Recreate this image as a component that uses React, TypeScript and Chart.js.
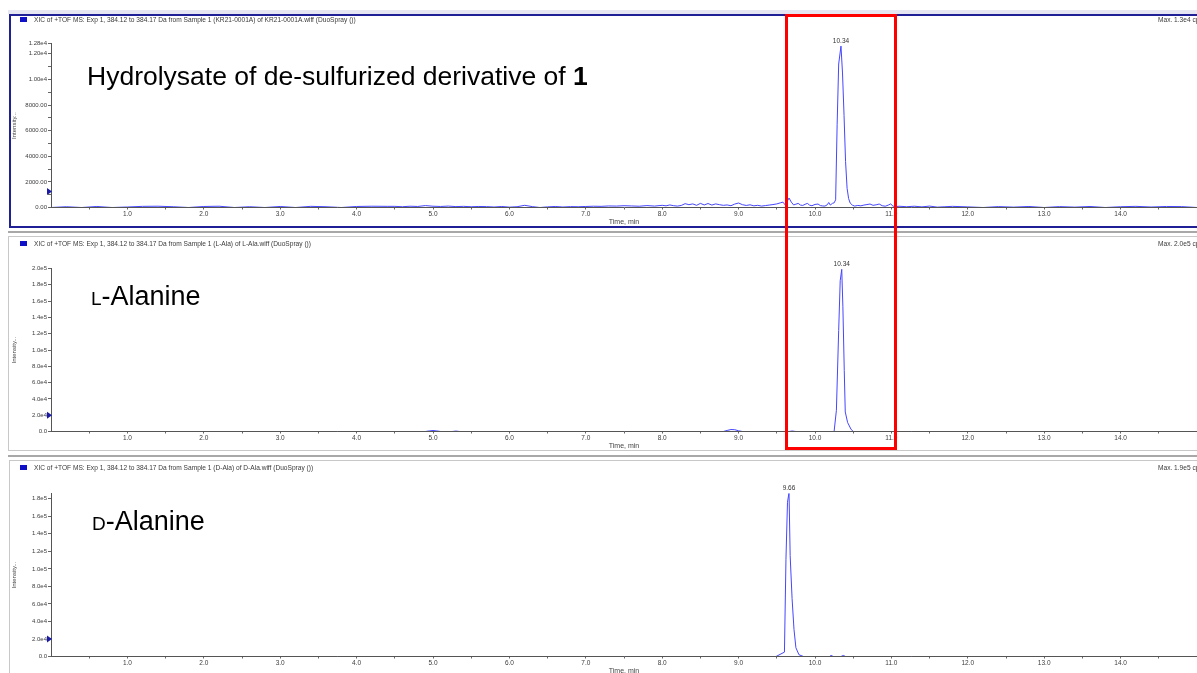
import React, { useEffect, useRef } from 'react';
import { Chart, registerables } from 'chart.js';

Chart.register(...registerables);

const FONT = '"Liberation Sans", Arial, sans-serif';

// ---------- Data ----------
// Panel 1: Hydrolysate of de-sulfurized derivative of 1
const TIME_1 = [
  0.0, 0.2, 0.4, 0.6, 0.8, 1.0, 1.2, 1.4, 1.6, 1.8, 2.0, 2.2, 2.4, 2.6, 2.8, 3.0, 3.2, 3.4, 3.6, 3.8, 4.0, 4.2, 4.4,
  4.5, 4.6, 4.7, 4.8, 4.9, 5.0, 5.1, 5.2, 5.3, 5.4, 5.5, 5.6, 5.7, 5.8, 5.9, 6.0, 6.1, 6.2, 6.3, 6.4, 6.5, 6.6, 6.7, 6.8, 6.9, 7.0, 7.1, 7.2, 7.3, 7.4, 7.5, 7.6, 7.7, 7.8, 7.9, 8.0,
  8.05, 8.1, 8.15, 8.2, 8.25, 8.3, 8.35, 8.4, 8.45, 8.5, 8.55, 8.6, 8.65, 8.7, 8.75, 8.8, 8.85, 8.9, 8.95, 9.0, 9.05, 9.1, 9.15, 9.2, 9.25, 9.3, 9.35, 9.4, 9.45, 9.5, 9.55,
  9.58, 9.61, 9.64, 9.66, 9.69, 9.72, 9.75, 9.78, 9.81, 9.84, 9.87, 9.9, 9.93, 9.96, 10.0, 10.04, 10.07, 10.1, 10.13, 10.16, 10.18, 10.2, 10.23, 10.25,
  10.27, 10.29, 10.31, 10.34, 10.36, 10.38, 10.4, 10.42, 10.44, 10.46, 10.49, 10.52,
  10.56, 10.6, 10.64, 10.68, 10.72, 10.76, 10.8, 10.84, 10.88, 10.92, 10.96, 10.99, 11.02, 11.06, 11.1,
  11.2, 11.3, 11.4, 11.5, 11.6, 11.7, 11.8, 12.0, 12.2, 12.4, 12.6, 12.8, 13.0, 13.2, 13.4, 13.6, 13.8, 14.0, 14.2, 14.4, 14.6, 14.8, 15.0,
];
const INTENSITY_1 = [
  0, 60, 0, 80, 0, 40, 90, 100, 60, 0, 80, 100, 0, 60, 0, 80, 0, 90, 60, 0, 80, 100, 90,
  90, 60, 100, 80, 150, 100, 80, 110, 70, 90, 60, 80, 70, 40, 80, 30, 60, 170, 70, 0, 50, 80, 40, 70, 60, 80, 100, 90, 120, 110, 140, 120, 100, 150, 110, 170,
  130, 200, 140, 110, 160, 300, 220, 280, 170, 320, 200, 310, 190, 280, 220, 170, 200, 140, 270, 350, 220, 160, 210, 130, 170, 110, 150, 190, 230, 280, 370,
  420, 200, 520, 740, 420, 200, 260, 320, 190, 160, 250, 320, 180, 140, 240, 270, 150, 120, 110, 210, 390, 190, 330, 360,
  600, 6500, 11200, 12600, 10500, 7200, 3600, 1500, 700, 350, 180, 110,
  160, 130, 190, 230, 270, 170, 210, 270, 140, 100, 190, 280, 110, 70, 100,
  60, 100, 50, 110, 30, 60, 90, 50, 0, 70, 30, 80, 0, 70, 30, 80, 0, 60, 90, 40, 80, 70, 0,
];

// Panel 2: L-Alanine
const TIME_2 = [
  0.0, 4.9, 4.95, 5.0, 5.05, 5.1, 5.25, 5.3, 5.35, 8.8, 8.85, 8.9, 8.95, 9.0, 9.05, 9.66, 9.7, 9.75,
  10.25, 10.28, 10.31, 10.33, 10.35, 10.365, 10.383, 10.396, 10.427, 10.47, 10.5, 15.0,
];
const INTENSITY_2 = [
  0, 0, 700, 1200, 700, 0, 0, 500, 0, 0, 1300, 2400, 2200, 900, 0, 0, 600, 0,
  0, 26000, 124000, 185000, 199000, 153000, 75000, 24000, 11000, 3000, 0, 0,
];

// Panel 3: D-Alanine
const TIME_3 = [0.0, 9.49, 9.6, 9.62, 9.64, 9.66, 9.675, 9.7, 9.725, 9.75, 9.79, 9.85, 10.19, 10.21, 10.24, 10.34, 10.37, 10.4, 15.0];
const INTENSITY_3 = [0, 0, 5000, 111000, 176000, 187000, 115000, 66000, 31000, 10000, 2000, 0, 0, 1200, 0, 0, 1200, 0, 0];

// Axis ticks
const X_TICKS = [0.5, 1, 1.5, 2, 2.5, 3, 3.5, 4, 4.5, 5, 5.5, 6, 6.5, 7, 7.5, 8, 8.5, 9, 9.5, 10, 10.5, 11, 11.5, 12, 12.5, 13, 13.5, 14, 14.5];
const X_TICK_LABELS = ['', '1.0', '', '2.0', '', '3.0', '', '4.0', '', '5.0', '', '6.0', '', '7.0', '', '8.0', '', '9.0', '', '10.0', '', '11.0', '', '12.0', '', '13.0', '', '14.0', ''];

const Y1_TICKS = [0, 1000, 2000, 3000, 4000, 5000, 6000, 7000, 8000, 9000, 10000, 11000, 12000, 12800];
const Y1_LABELS = ['0.00', '', '2000.00', '', '4000.00', '', '6000.00', '', '8000.00', '', '1.00e4', '', '1.20e4', '1.28e4'];
const Y2_TICKS = [0, 20000, 40000, 60000, 80000, 100000, 120000, 140000, 160000, 180000, 200000];
const Y2_LABELS = ['0.0', '2.0e4', '4.0e4', '6.0e4', '8.0e4', '1.0e5', '1.2e5', '1.4e5', '1.6e5', '1.8e5', '2.0e5'];
const Y3_TICKS = [0, 20000, 40000, 60000, 80000, 100000, 120000, 140000, 160000, 180000];
const Y3_LABELS = ['0.0', '2.0e4', '4.0e4', '6.0e4', '8.0e4', '1.0e5', '1.2e5', '1.4e5', '1.6e5', '1.8e5'];
const Y_MAX = [12800, 200000, 186000];

const TITLES = [
  'XIC of +TOF MS: Exp 1, 384.12 to 384.17 Da from Sample 1 (KR21-0001A) of KR21-0001A.wiff (DuoSpray ())',
  'XIC of +TOF MS: Exp 1, 384.12 to 384.17 Da from Sample 1 (L-Ala) of L-Ala.wiff (DuoSpray ())',
  'XIC of +TOF MS: Exp 1, 384.12 to 384.17 Da from Sample 1 (D-Ala) of D-Ala.wiff (DuoSpray ())',
];
const MAX_LABELS = ['Max. 1.3e4 cps', 'Max. 2.0e5 cps', 'Max. 1.9e5 cps'];
const PEAK_LABELS = ['10.34', '10.34', '9.66'];
const THRESHOLDS = [1250, 20000, 20000];

// ---------- Layout ----------
const W = 1197;
const H = 232;
const X_BOX = 23;
const Y_BOX = 44;
const PAD_LEFT = 7;

type PanelDef = {
  idx: number;
  time: number[];
  values: number[];
  yTicks: number[];
  yLabels: string[];
  yMax: number;
  canvasTop: number;
  chartTop: number;
  chartBottom: number;
  titleY: number;
  squareTop: number;
};

const PANELS: PanelDef[] = [
  { idx: 0, time: TIME_1, values: INTENSITY_1, yTicks: Y1_TICKS, yLabels: Y1_LABELS, yMax: Y_MAX[0], canvasTop: 0, chartTop: 43.5, chartBottom: 207.5, titleY: 20.5, squareTop: 17 },
  { idx: 1, time: TIME_2, values: INTENSITY_2, yTicks: Y2_TICKS, yLabels: Y2_LABELS, yMax: Y_MAX[1], canvasTop: 224, chartTop: 268.5, chartBottom: 431.5, titleY: 244.5, squareTop: 241 },
  { idx: 2, time: TIME_3, values: INTENSITY_3, yTicks: Y3_TICKS, yLabels: Y3_LABELS, yMax: Y_MAX[2], canvasTop: 448, chartTop: 493.5, chartBottom: 656.5, titleY: 468.5, squareTop: 465 },
];

function panelPlugin(p: PanelDef) {
  return {
    id: 'panelDecor' + p.idx,
    beforeDraw(chart: any) {
      const ctx = chart.ctx;
      const off = p.canvasTop;
      ctx.save();
      if (p.idx === 0) {
        ctx.fillStyle = '#e6e6f2';
        ctx.fillRect(8, 10 - off, W, 4);
        ctx.strokeStyle = '#1f1f96';
        ctx.lineWidth = 2;
        ctx.strokeRect(10, 15 - off, 1200, 212);
      } else if (p.idx === 1) {
        ctx.fillStyle = '#a8a8a8';
        ctx.fillRect(8, 231 - off, W, 2);
        ctx.strokeStyle = '#c8c8c8';
        ctx.lineWidth = 1;
        ctx.strokeRect(8.5, 236.5 - off, 1200, 214);
      } else {
        ctx.fillStyle = '#a8a8a8';
        ctx.fillRect(8, 455 - off, W, 2);
        ctx.strokeStyle = '#c8c8c8';
        ctx.lineWidth = 1;
        ctx.strokeRect(9.5, 460.5 - off, 1200, 300);
      }
      ctx.restore();
    },
    afterDraw(chart: any) {
      const ctx = chart.ctx;
      const off = p.canvasTop;
      const xs = chart.scales.x;
      const ys = chart.scales.y;
      ctx.save();
      // header
      ctx.fillStyle = '#1010c8';
      ctx.fillRect(20, p.squareTop - off, 7, 5);
      ctx.fillStyle = '#3a3a3a';
      ctx.font = `6.6px ${FONT}`;
      ctx.textBaseline = 'middle';
      ctx.textAlign = 'left';
      ctx.fillText(TITLES[p.idx], 34, p.titleY - off);
      ctx.fillText(MAX_LABELS[p.idx], 1158, p.titleY - off);
      // threshold marker
      const ty = ys.getPixelForValue(THRESHOLDS[p.idx]);
      const x0 = chart.chartArea.left;
      ctx.fillStyle = '#1a1aa8';
      ctx.beginPath();
      ctx.moveTo(x0 - 4, ty - 3.5);
      ctx.lineTo(x0 + 1, ty);
      ctx.lineTo(x0 - 4, ty + 3.5);
      ctx.closePath();
      ctx.fill();
      // peak label
      let mi = 0;
      p.values.forEach((v, i) => { if (v > p.values[mi]) mi = i; });
      const px = xs.getPixelForValue(p.time[mi]);
      const py = ys.getPixelForValue(p.values[mi]);
      ctx.fillStyle = '#333';
      ctx.font = `6.5px ${FONT}`;
      ctx.textAlign = 'center';
      ctx.textBaseline = 'alphabetic';
      ctx.fillText(PEAK_LABELS[p.idx], px, py - 3);
      ctx.restore();
    },
  };
}

function Panel({ p }: { p: PanelDef }) {
  const ref = useRef<HTMLCanvasElement>(null);
  useEffect(() => {
    if (!ref.current) return;
    const padTop = p.chartTop - p.canvasTop;
    const padBottom = H - (p.chartBottom - p.canvasTop) - X_BOX;
    const chart = new Chart(ref.current, {
      type: 'line',
      data: {
        datasets: [
          {
            data: p.time.map((t, i) => ({ x: t, y: p.values[i] })),
            borderColor: '#4646ff',
            borderWidth: 1,
            pointRadius: 0,
            tension: 0,
            fill: false,
          },
        ],
      },
      options: {
        animation: false,
        responsive: false,
        devicePixelRatio: 1,
        events: [],
        layout: { padding: { left: PAD_LEFT, right: 0, top: padTop, bottom: padBottom } },
        plugins: { legend: { display: false }, tooltip: { enabled: false }, title: { display: false } },
        scales: {
          x: {
            type: 'linear',
            min: 0,
            max: 15,
            afterBuildTicks: (s: any) => { s.ticks = X_TICKS.map((v) => ({ value: v })); },
            afterFit: (s: any) => { s.height = X_BOX; },
            ticks: {
              autoSkip: false,
              maxRotation: 0,
              minRotation: 0,
              padding: 1,
              color: '#3c3c3c',
              font: { family: FONT, size: 6.5 },
              callback: (_v: any, i: number) => X_TICK_LABELS[i],
            },
            grid: { display: true, drawOnChartArea: false, drawTicks: true, tickLength: 2, color: '#666', z: 1 },
            border: { display: true, color: '#555', width: 1, z: 2 },
            title: { display: true, text: 'Time, min', color: '#444', font: { family: FONT, size: 7 }, padding: { top: 0, bottom: 4 } },
          },
          y: {
            type: 'linear',
            min: 0,
            max: p.yMax,
            afterBuildTicks: (s: any) => { s.ticks = p.yTicks.map((v) => ({ value: v })); },
            afterFit: (s: any) => { s.width = Y_BOX; },
            ticks: {
              autoSkip: false,
              padding: 1,
              color: '#3c3c3c',
              font: { family: FONT, size: 6 },
              callback: (_v: any, i: number) => p.yLabels[i],
            },
            grid: { display: true, drawOnChartArea: false, drawTicks: true, tickLength: 3, color: '#666', z: 1 },
            border: { display: true, color: '#555', width: 1, z: 2 },
            title: { display: true, text: 'Intensity...', color: '#444', font: { family: FONT, size: 6 }, padding: { top: 4, bottom: 0 } },
          },
        },
      } as any,
      plugins: [panelPlugin(p)],
    });
    return () => chart.destroy();
  }, [p]);
  return (
    <canvas
      ref={ref}
      width={W}
      height={H}
      style={{ position: 'absolute', left: 0, top: p.canvasTop, width: W, height: H }}
    />
  );
}

const labelStyle: React.CSSProperties = {
  position: 'absolute',
  fontFamily: FONT,
  fontSize: 27,
  lineHeight: '27px',
  color: '#000',
  whiteSpace: 'nowrap',
};

export default function App() {
  return (
    <div style={{ position: 'absolute', left: 0, top: 0, width: W, height: 673, overflow: 'hidden', background: '#fff' }}>
      {PANELS.map((p) => (
        <Panel key={p.idx} p={p} />
      ))}
      <div style={{ ...labelStyle, fontSize: 26.5, left: 87, top: 63 }}>
        Hydrolysate of de-sulfurized derivative of <b>1</b>
      </div>
      <div style={{ ...labelStyle, left: 91, top: 283 }}>
        <span style={{ fontSize: 19 }}>L</span>-Alanine
      </div>
      <div style={{ ...labelStyle, left: 92, top: 508 }}>
        <span style={{ fontSize: 19 }}>D</span>-Alanine
      </div>
      <div
        style={{
          position: 'absolute',
          left: 785,
          top: 14,
          width: 112,
          height: 436,
          border: '3px solid #ff0000',
          boxSizing: 'border-box',
        }}
      />
    </div>
  );
}
